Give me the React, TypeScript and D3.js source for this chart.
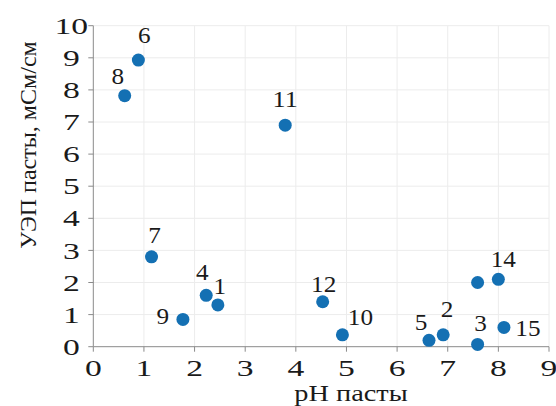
import React from 'react';
import * as d3 from 'd3';

const sampleLabels = ['1', '2', '3', '4', '5', '6', '7', '8', '9', '10', '11', '12', '13', '14', '15'];
const phValues = [2.46, 6.91, 7.59, 2.23, 6.63, 0.89, 1.15, 0.62, 1.77, 4.92, 3.79, 4.53, 7.59, 8.0, 8.11];
const conductivityValues = [1.3, 0.37, 0.07, 1.6, 0.2, 8.93, 2.8, 7.82, 0.85, 0.37, 6.9, 1.4, 2.0, 2.1, 0.6];
const xTickValues = [0, 1, 2, 3, 4, 5, 6, 7, 8, 9];
const yTickValues = [0, 1, 2, 3, 4, 5, 6, 7, 8, 9, 10];
const xTitle = 'pH пасты';
const yTitle = 'УЭП пасты, мСм/см';

// where each number label sits around its dot (dx, dy in px); sample 13 has none
const labelOffsets: Record<string, [number, number] | null> = {
  '1': [2, -11],
  '2': [4, -18],
  '3': [3, -13],
  '4': [-4, -15],
  '5': [-8, -10],
  '6': [6, -17],
  '7': [3, -14],
  '8': [-7, -12],
  '9': [-20, 5],
  '10': [18, -10],
  '11': [0, -18],
  '12': [1, -10],
  '13': null,
  '14': [5, -12],
  '15': [24, 9],
};

const FONT = '"Liberation Serif"';
const WIDTH = 556;
const HEIGHT = 406;
const margin = { top: 25.7, right: 7, bottom: 59.3, left: 93.3 };
const axisColor = '#8a8a8a';
const gridColor = '#ececec';
const textColor = '#1a1a1a';
const digitWidth = 12; // advance of one digit at 24px

// number text stretched sideways with textLength instead of a transform
const Num: React.FC<{ x: number; y: number; stretch: number; dy?: string; text: string }> = ({ x, y, stretch, dy, text }) => (
  <text
    x={x}
    y={y}
    dy={dy}
    fontSize={24}
    textAnchor="middle"
    textLength={text.length * digitWidth * stretch}
    lengthAdjust="spacingAndGlyphs"
    fill={textColor}
    style={{ fontFamily: FONT }}
  >
    {text}
  </text>
);

const App: React.FC = () => {
  const x = d3.scaleLinear().domain([0, 9]).range([margin.left, WIDTH - margin.right]);
  const y = d3.scaleLinear().domain([0, 10]).range([HEIGHT - margin.bottom, margin.top]);
  const points = sampleLabels.map((name, i) => ({ name, ph: phValues[i], ec: conductivityValues[i] }));
  const x0 = x(0);
  const y0 = y(0);
  const fmt = d3.format('d');

  return (
    <svg width={WIDTH} height={HEIGHT} style={{ display: 'block', position: 'absolute', left: 0, top: 0, background: '#fff' }}>
      {/* grid */}
      {xTickValues.slice(1).map(t => (
        <line key={`gx${t}`} x1={x(t)} x2={x(t)} y1={y(10)} y2={y0} stroke={gridColor} />
      ))}
      {yTickValues.slice(1).map(t => (
        <line key={`gy${t}`} x1={x0} x2={x(9)} y1={y(t)} y2={y(t)} stroke={gridColor} />
      ))}

      {/* axes */}
      <line x1={x0} x2={x(9)} y1={y0} y2={y0} stroke={axisColor} />
      <line x1={x0} x2={x0} y1={y(10)} y2={y0} stroke={axisColor} />
      {xTickValues.map(t => (
        <g key={`tx${t}`}>
          <line x1={x(t)} x2={x(t)} y1={y0} y2={y0 + 5} stroke={axisColor} />
          <Num x={x(t)} y={y0 + 29} stretch={1.4} text={fmt(t)} />
        </g>
      ))}
      {yTickValues.map(t => (
        <g key={`ty${t}`}>
          <line x1={x0 - 5} x2={x0} y1={y(t)} y2={y(t)} stroke={axisColor} />
          <Num x={x0 - 22} y={y(t)} dy="0.34em" stretch={1.4} text={fmt(t)} />
        </g>
      ))}

      {/* dots */}
      {points.map(d => (
        <circle key={`p${d.name}`} cx={x(d.ph)} cy={y(d.ec)} r={6.5} fill="#1470b3" />
      ))}

      {/* number labels */}
      {points.map(d => {
        const off = labelOffsets[d.name];
        if (!off) return null;
        return <Num key={`l${d.name}`} x={x(d.ph) + off[0]} y={y(d.ec) + off[1]} stretch={1.05} text={d.name} />;
      })}

      {/* axis titles */}
      <text
        transform="translate(351,401) scale(1.18,1)"
        fontSize={24}
        textAnchor="middle"
        fill={textColor}
        style={{ fontFamily: FONT }}
      >
        {xTitle}
      </text>
      <g transform="translate(36,145) rotate(-90)">
        <text x={0} y={0} fontSize={24} textAnchor="middle" fill={textColor} style={{ fontFamily: FONT }}>
          {yTitle}
        </text>
      </g>
    </svg>
  );
};

export default App;
